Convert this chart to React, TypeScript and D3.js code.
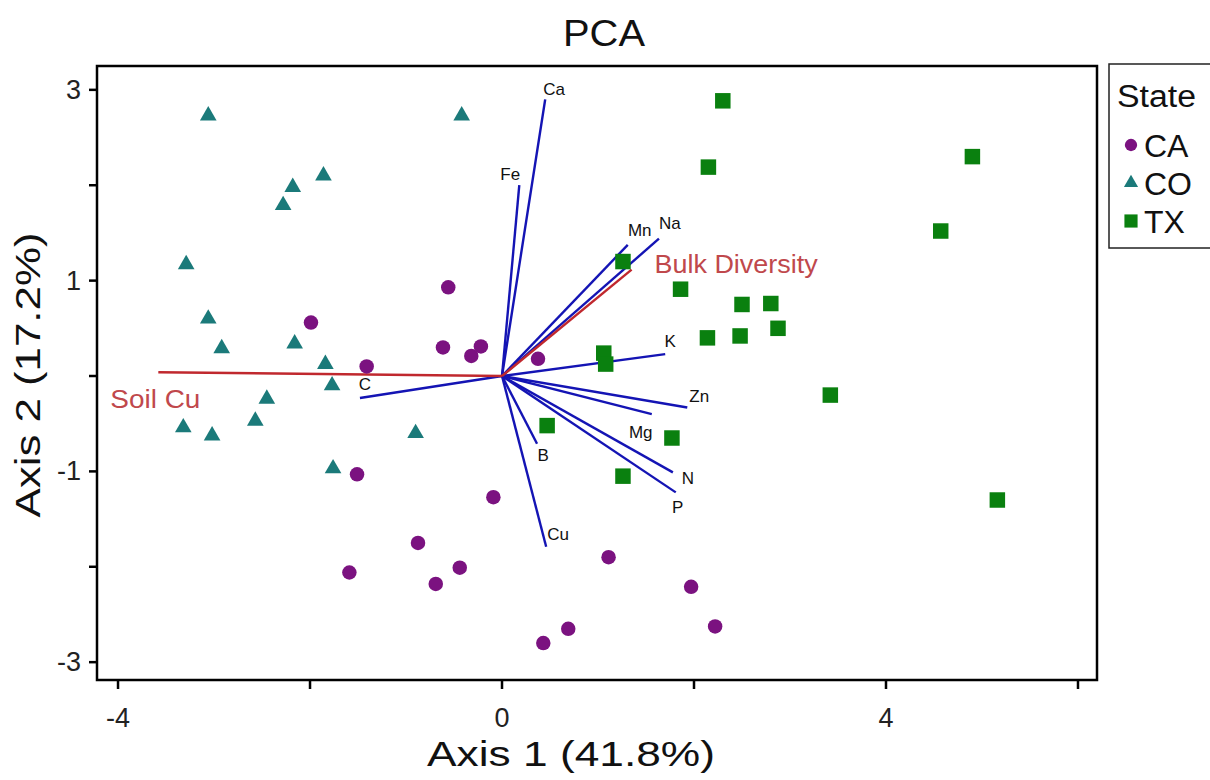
import React from "react";
import * as d3 from "d3";

// ---- data (PCA scores) ----
const caPoints: [number, number][] = [
  [-0.56, 0.93], [-1.99, 0.56], [-0.615, 0.3], [-0.32, 0.21], [-0.22, 0.31],
  [-1.41, 0.1], [0.375, 0.18], [-1.51, -1.03], [-0.09, -1.27], [-0.875, -1.75],
  [1.11, -1.9], [-0.44, -2.01], [-1.59, -2.06], [-0.69, -2.18], [1.97, -2.21],
  [2.22, -2.625], [0.69, -2.65], [0.43, -2.8],
];
const coPoints: [number, number][] = [
  [-3.06, 2.73], [-0.42, 2.73], [-1.86, 2.1], [-2.18, 1.98], [-2.28, 1.79],
  [-3.29, 1.17], [-3.06, 0.6], [-2.92, 0.29], [-2.16, 0.34], [-1.84, 0.125],
  [-1.77, -0.1], [-2.45, -0.24], [-3.32, -0.54], [-2.57, -0.47], [-3.02, -0.625],
  [-0.9, -0.6], [-1.76, -0.97],
];
const txPoints: [number, number][] = [
  [2.3, 2.885], [2.15, 2.19], [4.9, 2.3], [4.57, 1.52], [1.26, 1.2],
  [1.86, 0.91], [2.5, 0.75], [2.8, 0.76], [2.875, 0.5], [2.14, 0.4],
  [2.48, 0.42], [1.06, 0.24], [1.08, 0.125], [3.42, -0.2], [0.47, -0.52],
  [1.77, -0.65], [1.26, -1.05], [5.16, -1.3],
];

// biplot vectors (soil variables)
const vectorNames = ["Ca", "Fe", "Mn", "Na", "K", "Zn", "Mg", "N", "P", "B", "Cu", "C"];
const vectorX = [0.45, 0.18, 1.31, 1.635, 1.7, 1.93, 1.56, 1.78, 1.81, 0.365, 0.46, -1.48];
const vectorY = [2.9, 2.0, 1.375, 1.44, 0.23, -0.33, -0.4, -1.01, -1.22, -0.71, -1.79, -0.23];

// overlay vectors (red)
const overlayNames = ["Bulk Diversity", "Soil Cu"];
const overlayX = [1.35, -3.58];
const overlayY = [1.115, 0.04];

const xTicks = [-4, -2, 0, 2, 4, 6];
const xTickLabels = ["-4", "", "0", "", "4", ""];
const yTicks = [-3, -2, -1, 0, 1, 2, 3];
const yTickLabels = ["-3", "", "-1", "", "1", "", "3"];

const legendTitle = "State";
const legendLabels = ["CA", "CO", "TX"];

// ---- styling / layout ----
const W = 1210;
const H = 780;
const plot = { left: 97, right: 1097, top: 66, bottom: 680 };
const FONT = "Arial, 'Liberation Sans', Helvetica, sans-serif";
const colors = { CA: "#7b1280", CO: "#1b7a7a", TX: "#0a800f" };
const blue = "#1414b4";
const red = "#c0282e";

// label offsets in pixels from each vector tip (styling)
const vecLabelOffsets: Record<string, [number, number]> = {
  Ca: [9, -10],
  Fe: [-9, -11],
  Mn: [12, -14],
  Na: [11, -15],
  K: [5, -13],
  Zn: [12, -11],
  Mg: [-11, 18],
  N: [15, 6],
  P: [2, 15],
  B: [6, 12],
  Cu: [12, -12],
  C: [5, -13],
};

export default function App() {
  const x = d3.scaleLinear().domain([-4.219, 6.198]).range([plot.left, plot.right]);
  const y = d3.scaleLinear().domain([-3.187, 3.25]).range([plot.bottom, plot.top]);

  const circle = d3.symbol().type(d3.symbolCircle).size(165)();
  const tri = d3.symbol().type(d3.symbolTriangle).size(120)();
  const sq = d3.symbol().type(d3.symbolSquare).size(240)();

  const x0 = x(0);
  const y0 = y(0);

  return (
    <svg
      width={W}
      height={H}
      style={{ position: "absolute", left: 0, top: 0, background: "#fff" }}
      fontFamily={FONT}
    >
      <rect x={0} y={0} width={W} height={H} fill="#fff" />
      {/* title */}
      <text x={604} y={46} textAnchor="middle" fontSize={36} fill="#111" textLength={82} lengthAdjust="spacingAndGlyphs">
        PCA
      </text>

      {/* biplot vectors */}
      {vectorNames.map((n, i) => {
        const ex = x(vectorX[i]);
        const ey = y(vectorY[i]);
        const off = vecLabelOffsets[n];
        return (
          <g key={n}>
            <line x1={x0} y1={y0} x2={ex} y2={ey} stroke={blue} strokeWidth={2.4} />
            <text
              x={ex + off[0]}
              y={ey + off[1]}
              textAnchor="middle"
              dominantBaseline="central"
              fontSize={17}
              fill="#111"
            >
              {n}
            </text>
          </g>
        );
      })}

      {/* overlay vectors */}
      {overlayNames.map((n, i) => (
        <line
          key={n}
          x1={x0}
          y1={y0}
          x2={x(overlayX[i])}
          y2={y(overlayY[i])}
          stroke={red}
          strokeWidth={2.4}
        />
      ))}
      <text x={x(overlayX[0]) + 23} y={y(overlayY[0]) - 6} dominantBaseline="central" fontSize={26} fill="#c0484c" textLength={163} lengthAdjust="spacingAndGlyphs">
        {overlayNames[0]}
      </text>
      <text x={x(overlayX[1]) - 48} y={y(overlayY[1]) + 27} dominantBaseline="central" fontSize={26} fill="#c0484c" textLength={90} lengthAdjust="spacingAndGlyphs">
        {overlayNames[1]}
      </text>

      {/* points */}
      {caPoints.map((p, i) => (
        <path key={"ca" + i} d={circle!} transform={`translate(${x(p[0])},${y(p[1])})`} fill={colors.CA} />
      ))}
      {coPoints.map((p, i) => (
        <path key={"co" + i} d={tri!} transform={`translate(${x(p[0])},${y(p[1])})`} fill={colors.CO} />
      ))}
      {txPoints.map((p, i) => (
        <path key={"tx" + i} d={sq!} transform={`translate(${x(p[0])},${y(p[1])})`} fill={colors.TX} />
      ))}

      {/* frame */}
      <rect
        x={plot.left}
        y={plot.top}
        width={plot.right - plot.left}
        height={plot.bottom - plot.top}
        fill="none"
        stroke="#000"
        strokeWidth={2.5}
      />

      {/* x axis ticks */}
      {xTicks.map((t, i) => (
        <g key={"xt" + t}>
          <line x1={x(t)} x2={x(t)} y1={plot.bottom} y2={plot.bottom + 9} stroke="#000" strokeWidth={2.5} />
          {xTickLabels[i] && (
            <text x={x(t)} y={plot.bottom + 47} textAnchor="middle" fontSize={27} fill="#222">
              {xTickLabels[i]}
            </text>
          )}
        </g>
      ))}
      {/* y axis ticks */}
      {yTicks.map((t, i) => (
        <g key={"yt" + t}>
          <line x1={plot.left - 8} x2={plot.left} y1={y(t)} y2={y(t)} stroke="#000" strokeWidth={2.5} />
          {yTickLabels[i] && (
            <text x={plot.left - 16} y={y(t)} textAnchor="end" dominantBaseline="central" fontSize={27} fill="#222">
              {yTickLabels[i]}
            </text>
          )}
        </g>
      ))}

      {/* axis titles */}
      <text x={571} y={766} textAnchor="middle" fontSize={35} fill="#111" textLength={288} lengthAdjust="spacingAndGlyphs">
        Axis 1 (41.8%)
      </text>
      <text
        transform={`translate(40,${375}) rotate(-90)`}
        textAnchor="middle"
        fontSize={35}
        fill="#111"
        textLength={285}
        lengthAdjust="spacingAndGlyphs"
      >
        Axis 2 (17.2%)
      </text>

      {/* legend */}
      <rect x={1109} y={64} width={110} height={184} fill="#fff" stroke="#222" strokeWidth={1.5} />
      <text x={1117} y={107} fontSize={31} fill="#111" textLength={79} lengthAdjust="spacingAndGlyphs">
        {legendTitle}
      </text>
      {legendLabels.map((l, i) => {
        const cy = 145 + i * 38;
        const d = i === 0 ? circle : i === 1 ? tri : sq;
        const c = i === 0 ? colors.CA : i === 1 ? colors.CO : colors.TX;
        return (
          <g key={l}>
            <path d={d!} transform={`translate(1131,${cy}) scale(0.85)`} fill={c} />
            <text x={1144} y={cy + 1} dominantBaseline="central" fontSize={32} fill="#111">
              {l}
            </text>
          </g>
        );
      })}
    </svg>
  );
}
